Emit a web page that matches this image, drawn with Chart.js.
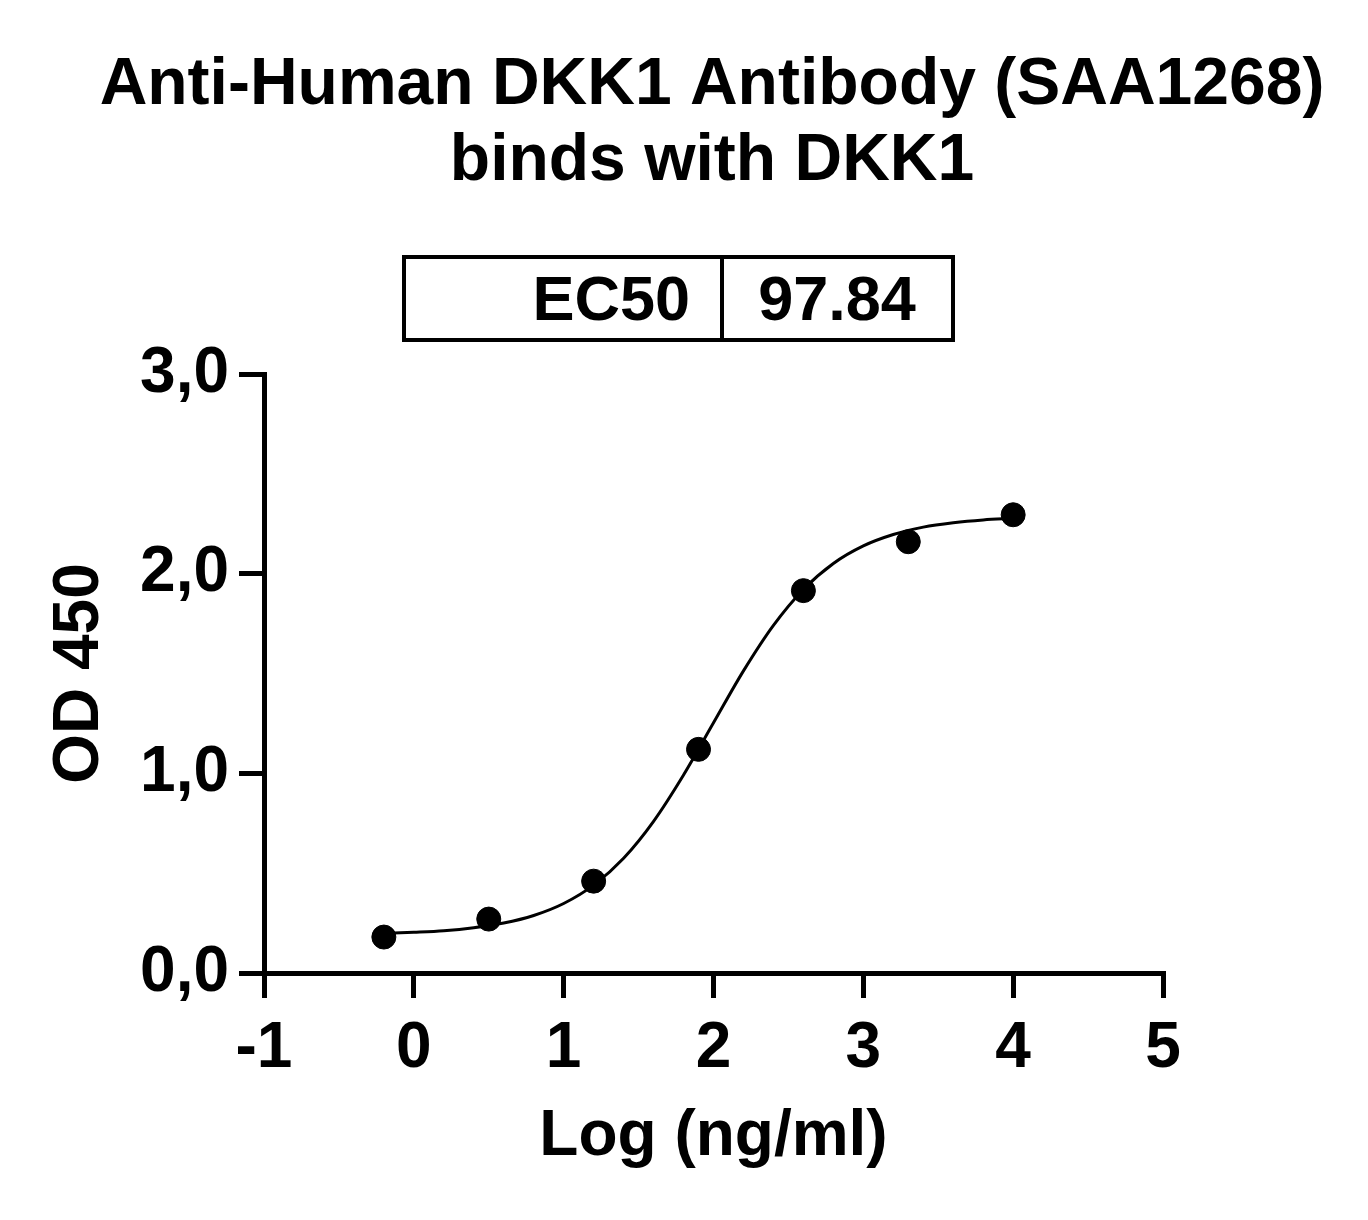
<!DOCTYPE html>
<html>
<head>
<meta charset="utf-8">
<script src="https://cdn.jsdelivr.net/npm/chart.js@4.4.1/dist/chart.umd.min.js"></script>
<style>
  body { margin: 0; background: #fff; }
  #odChart { display: block; }
</style>
</head>
<body>
<canvas id="odChart" width="1368" height="1220"></canvas>
<script>
// Measured points: log10 concentration (ng/ml) vs OD 450
const logConc = [-0.2, 0.5, 1.2, 1.9, 2.6, 3.3, 4.0];
const odValues = [0.18, 0.27, 0.46, 1.12, 1.915, 2.16, 2.295];

// Fitted curve
const curveX = [-0.2, 0, 0.2, 0.4, 0.6, 0.8, 1.0, 1.2, 1.4, 1.6, 1.8, 2.0, 2.2, 2.4, 2.6, 2.8, 3.0, 3.2, 3.4, 3.6, 3.8, 4.0];
const curveY = [0.198, 0.204, 0.212, 0.227, 0.25, 0.288, 0.348, 0.44, 0.575, 0.76, 0.992, 1.253, 1.513, 1.741, 1.921, 2.051, 2.139, 2.196, 2.233, 2.255, 2.269, 2.277];

const titleLines = ["Anti-Human DKK1 Antibody (SAA1268)", "binds with DKK1"];
const ec50Label = "EC50";
const ec50Value = "97.84";

const FONT = "'Liberation Sans', Arial, sans-serif";

// titles and the EC50 box
const headerPlugin = {
  id: "header",
  afterDraw(chart) {
    const ctx = chart.ctx;
    ctx.save();
    ctx.fillStyle = "#000";
    ctx.textBaseline = "alphabetic";
    ctx.textAlign = "center";
    ctx.font = "bold 66px " + FONT;
    ctx.fillText(titleLines[0], 712, 104);
    ctx.fillText(titleLines[1], 712, 180);

    // box
    ctx.strokeStyle = "#000";
    ctx.lineWidth = 4;
    ctx.strokeRect(404, 257, 549, 83);
    ctx.beginPath();
    ctx.moveTo(722, 257);
    ctx.lineTo(722, 340);
    ctx.stroke();

    ctx.font = "bold 63px " + FONT;
    ctx.textAlign = "right";
    ctx.fillText(ec50Label, 690, 320);
    ctx.textAlign = "center";
    ctx.fillText(ec50Value, 837, 320);
    ctx.restore();
  }
};

const curveData = curveX.map((x, i) => ({ x: x, y: curveY[i] }));
const pointData = logConc.map((x, i) => ({ x: x, y: odValues[i] }));

const axisGrid = {
  display: true,
  drawOnChartArea: false,
  drawTicks: true,
  tickLength: 25,
  tickWidth: 5,
  tickColor: "#000",
  color: "#000",
  lineWidth: 5
};

new Chart(document.getElementById("odChart"), {
  type: "scatter",
  data: {
    datasets: [
      {
        type: "line",
        data: curveData,
        borderColor: "#000",
        borderWidth: 3,
        pointRadius: 0,
        cubicInterpolationMode: "monotone",
        fill: false
      },
      {
        data: pointData,
        backgroundColor: "#000",
        borderColor: "#000",
        pointRadius: 12,
        pointHoverRadius: 12
      }
    ]
  },
  options: {
    responsive: false,
    animation: false,
    events: [],
    layout: { padding: { top: 374, right: 205, left: 0, bottom: 0 } },
    plugins: {
      legend: { display: false },
      tooltip: { enabled: false }
    },
    scales: {
      x: {
        type: "linear",
        min: -1,
        max: 5,
        ticks: {
          stepSize: 1,
          color: "#000",
          padding: 13,
          font: { family: FONT, size: 64, weight: "bold" }
        },
        grid: axisGrid,
        border: { display: true, color: "#000", width: 5 },
        title: {
          display: true,
          text: "Log (ng/ml)",
          color: "#000",
          padding: { top: 0, bottom: 44 },
          font: { family: FONT, size: 64, weight: "bold" }
        },
        afterFit(scale) { scale.height = 247; }
      },
      y: {
        type: "linear",
        min: 0,
        max: 3,
        ticks: {
          stepSize: 1,
          color: "#000",
          padding: 10,
          font: { family: FONT, size: 64, weight: "bold" },
          callback: (v) => v.toFixed(1).replace(".", ",")
        },
        grid: axisGrid,
        border: { display: true, color: "#000", width: 5 },
        title: {
          display: true,
          text: "OD 450",
          color: "#000",
          padding: { top: 42, bottom: 0 },
          font: { family: FONT, size: 64, weight: "bold" }
        },
        afterFit(scale) { scale.width = 264; }
      }
    }
  },
  plugins: [headerPlugin]
});
</script>
</body>
</html>
